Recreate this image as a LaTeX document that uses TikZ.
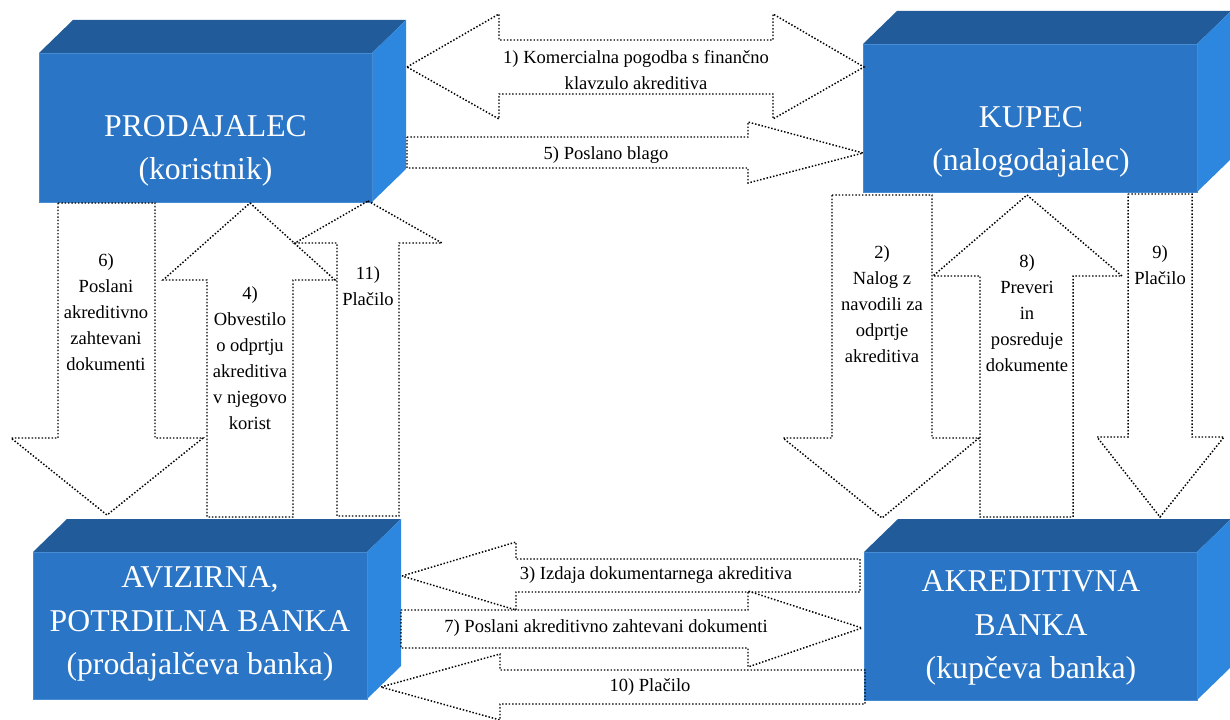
\documentclass[tikz,border=0pt]{standalone}
\usepackage{fontspec}
\setmainfont{Liberation Serif}
\definecolor{boxfront}{RGB}{42,117,198}
\definecolor{boxtop}{RGB}{33,91,153}
\definecolor{boxside}{RGB}{46,135,222}
\definecolor{boxedge}{RGB}{70,140,210}
% 3D block: #1 name, front face from (#2,#3) to (#4,#5)
\newcommand\blockbox[5]{%
  \fill[boxtop] (#2,#3) -- (#2+34,#3-33) -- (#4+34,#3-33) -- (#4,#3) -- cycle;
  \fill[boxside] (#4,#3) -- (#4+34,#3-33) -- (#4+34,#5-33) -- (#4,#5) -- cycle;
  \filldraw[fill=boxfront, draw=boxedge, line width=0.6pt] (#2,#3) rectangle (#4,#5);
  \coordinate (#1) at ({(#2+#4)/2},{(#3+#5)/2});
}
\begin{document}
\begin{tikzpicture}[x=0.75pt,y=-0.75pt,
  flow/.style={draw=black, line width=1.1pt, dash pattern=on 1.1pt off 1.4pt, line join=miter},
  flowtext/.style={align=center, font=\fontsize{13.9}{19.5}\selectfont, inner sep=0pt},
  boxtext/.style={align=center, text=white, font=\fontsize{23.8}{32.5}\selectfont, inner sep=0pt}]
\useasboundingbox (0,0) rectangle (1230,720);

% parties and banks
\blockbox{prod}{39}{53}{372}{202}
\blockbox{kupec}{863}{44}{1197}{192}
\blockbox{aviz}{33}{552}{367}{699}
\blockbox{akred}{864}{552}{1197}{700}

\node[boxtext] (prodlabel) at (205.5,151) {PRODAJALEC\\(koristnik)};
\node[boxtext] (kupeclabel) at (1031,142) {KUPEC\\(nalogodajalec)};
\node[boxtext] (avizlabel) at (200,624) {AVIZIRNA,\\POTRDILNA BANKA\\(prodajalčeva banka)};
\node[boxtext] (akredlabel) at (1031,628) {AKREDITIVNA\\BANKA\\(kupčeva banka)};

% 1) two-way arrow between seller and buyer
\draw[flow] (407,67) -- (499,14) -- (499,40) -- (773,40) -- (773,14) -- (864,67)
  -- (773,119) -- (773,94) -- (499,94) -- (499,119) -- cycle;
\node[flowtext] (t1) at (636,70) {1) Komercialna pogodba s finančno\\klavzulo akreditiva};

% 5) goods shipped
\draw[flow] (407,137) -- (748,137) -- (748,122) -- (863,153) -- (748,183) -- (748,168) -- (407,168) -- cycle;
\node[flowtext] (t5) at (606,155) {5) Poslano blago};

% 6) documents to the advising bank
\draw[flow] (58,203) -- (155,203) -- (155,438) -- (203,438) -- (107,515) -- (11,438) -- (58,438) -- cycle;
\node[flowtext] (t6) at (106,312) {6)\\Poslani\\akreditivno\\zahtevani\\dokumenti};

% 4) notification of the opened credit
\draw[flow] (250,203) -- (335,280) -- (293,280) -- (293,517) -- (207,517) -- (207,280) -- (163,280) -- cycle;
\node[flowtext] (t4) at (250,358) {4)\\Obvestilo\\o odprtju\\akreditiva\\v njegovo\\korist};

% 11) payment to the seller
\draw[flow] (368,201) -- (442,243) -- (399,243) -- (399,516) -- (337,516) -- (337,243) -- (295,243) -- cycle;
\node[flowtext] (t11) at (368,286) {11)\\Plačilo};

% 2) instruction to open the credit
\draw[flow] (832,195) -- (932,195) -- (932,438) -- (979,438) -- (882,518) -- (783,438) -- (832,438) -- cycle;
\node[flowtext] (t2) at (882,304) {2)\\Nalog z\\navodili za\\odprtje\\akreditiva};

% 8) check and forward the documents
\draw[flow] (1027,195) -- (1122,276) -- (1073,276) -- (1073,517) -- (980,517) -- (980,276) -- (933,276) -- cycle;
\node[flowtext] (t8) at (1027,313) {8)\\Preveri\\in\\posreduje\\dokumente};

% 9) payment by the buyer
\draw[flow] (1128,194) -- (1192,194) -- (1192,437) -- (1224,437) -- (1160,517) -- (1097,437) -- (1128,437) -- cycle;
\node[flowtext] (t9) at (1160,265) {9)\\Plačilo};

% 3) issuing the documentary credit
\draw[flow] (402,576) -- (516,542) -- (516,559) -- (860,559) -- (860,592) -- (516,592) -- (516,610) -- cycle;
\node[flowtext] (t3) at (656,575) {3) Izdaja dokumentarnega akreditiva};

% 7) documents to the issuing bank
\draw[flow] (401,610) -- (748,610) -- (748,591) -- (862,628) -- (748,667) -- (748,648) -- (401,648) -- cycle;
\node[flowtext] (t7) at (606,628) {7) Poslani akreditivno zahtevani dokumenti};

% 10) payment between the banks
\draw[flow] (381,687) -- (500,654) -- (500,670) -- (865,670) -- (865,704) -- (500,704) -- (500,720) -- cycle;
\node[flowtext] (t10) at (650,687) {10) Plačilo};
\end{tikzpicture}
\end{document}
